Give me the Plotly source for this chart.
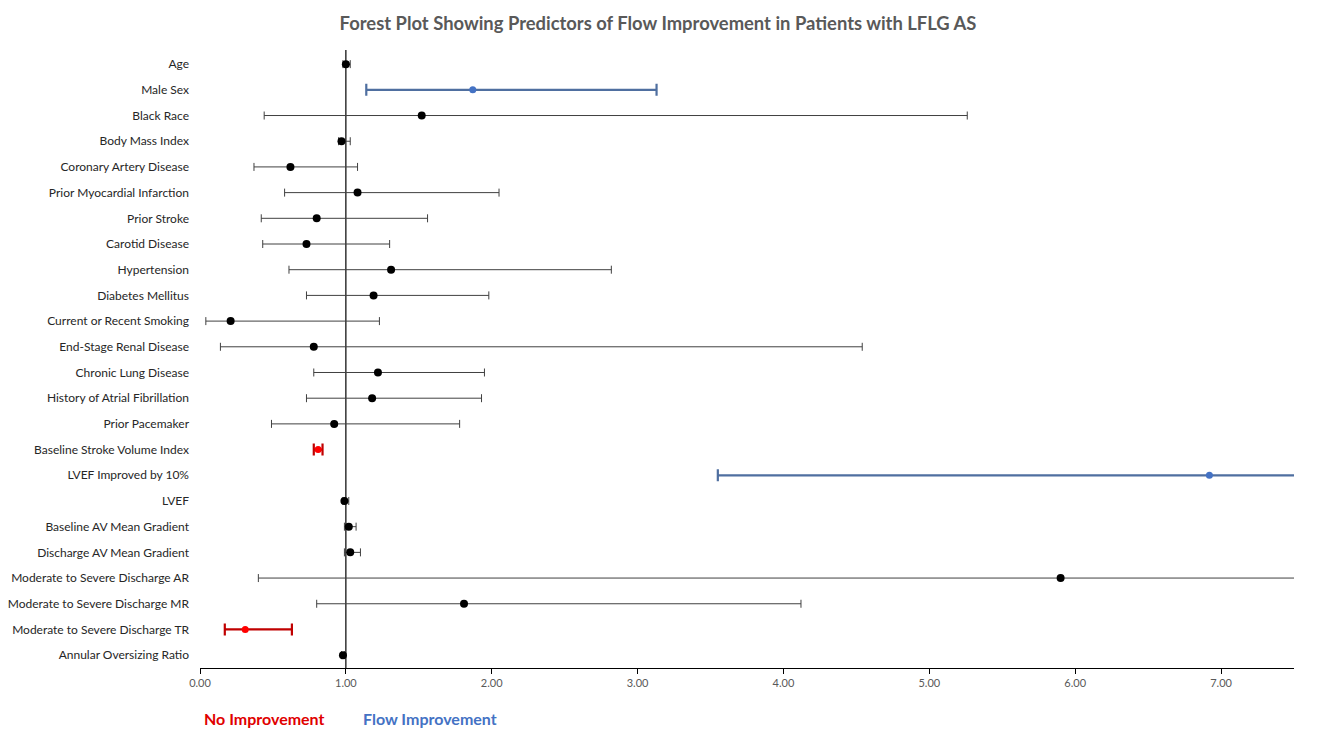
import plotly.graph_objects as go

labels = [
    "Age", "Male Sex", "Black Race", "Body Mass Index", "Coronary Artery Disease",
    "Prior Myocardial Infarction", "Prior Stroke", "Carotid Disease", "Hypertension",
    "Diabetes Mellitus", "Current or Recent Smoking", "End-Stage Renal Disease",
    "Chronic Lung Disease", "History of Atrial Fibrillation", "Prior Pacemaker",
    "Baseline Stroke Volume Index", "LVEF Improved by 10%", "LVEF",
    "Baseline AV Mean Gradient", "Discharge AV Mean Gradient",
    "Moderate to Severe Discharge AR", "Moderate to Severe Discharge MR",
    "Moderate to Severe Discharge TR", "Annular Oversizing Ratio",
]
odds_ratio = [1.00, 1.87, 1.52, 0.97, 0.62, 1.08, 0.80, 0.73, 1.31, 1.19, 0.21, 0.78,
              1.22, 1.18, 0.92, 0.81, 6.92, 0.99, 1.02, 1.03, 5.90, 1.81, 0.31, 0.98]
ci_low = [0.98, 1.14, 0.44, 0.95, 0.37, 0.58, 0.42, 0.43, 0.61, 0.73, 0.04, 0.14,
          0.78, 0.73, 0.49, 0.78, 3.55, 0.98, 0.99, 0.99, 0.40, 0.80, 0.17, 0.97]
ci_high = [1.03, 3.13, 5.26, 1.03, 1.08, 2.05, 1.56, 1.30, 2.82, 1.98, 1.23, 4.54,
           1.95, 1.93, 1.78, 0.84, 13.5, 1.02, 1.07, 1.10, 9.0, 4.12, 0.63, 0.99]
# effect group: "pos" = flow improvement, "neg" = no improvement, "ns" = not significant
group = ["ns", "pos", "ns", "ns", "ns", "ns", "ns", "ns", "ns", "ns", "ns", "ns",
         "ns", "ns", "ns", "neg", "pos", "ns", "ns", "ns", "ns", "ns", "neg", "ns"]
x_ticks = [0, 1, 2, 3, 4, 5, 6, 7]

styles = {
    "ns": dict(line="#404040", dot="#000000", lw=1, size=8, cap=4),
    "pos": dict(line="#4F6FA0", dot="#4472C4", lw=2.2, size=7, cap=6),
    "neg": dict(line="#C00000", dot="#FF0000", lw=2.2, size=7, cap=6),
}

fig = go.Figure()
for g, st in styles.items():
    idx = [i for i, v in enumerate(group) if v == g]
    fig.add_trace(go.Scatter(
        x=[odds_ratio[i] for i in idx],
        y=[i for i in idx],
        mode="markers",
        marker=dict(color=st["dot"], size=st["size"]),
        error_x=dict(
            type="data", symmetric=False,
            array=[ci_high[i] - odds_ratio[i] for i in idx],
            arrayminus=[odds_ratio[i] - ci_low[i] for i in idx],
            color=st["line"], thickness=st["lw"], width=st["cap"],
        ),
        showlegend=False,
        hoverinfo="skip",
    ))

fig.add_shape(type="line", xref="x", yref="paper", x0=1, x1=1, y0=0, y1=1,
              line=dict(color="#000000", width=1.2), layer="below")

W, H = 1317, 734
L, R, T, B = 192, 31, 42, 74
font = "Lato, 'Open Sans', Arial, sans-serif"
fig.update_layout(
    width=W, height=H,
    margin=dict(l=L, r=R, t=T, b=B, autoexpand=False),
    paper_bgcolor="white", plot_bgcolor="white",
    title=dict(text="<b>Forest Plot Showing Predictors of Flow Improvement in Patients with LFLG AS</b>",
               x=650 / W, xanchor="center", y=1 - 16 / H, yanchor="middle",
               font=dict(family=font, size=18.4, color="#595959")),
    font=dict(family=font),
    xaxis=dict(range=[0, 7.5], tickvals=x_ticks, automargin=False,
               ticktext=[f"{v:.2f}" for v in x_ticks],
               showgrid=False, zeroline=False, showline=True,
               linecolor="#000000", linewidth=1.2,
               ticks="outside", ticklen=5, tickcolor="#000000",
               tickfont=dict(size=11, color="#595959")),
    yaxis=dict(range=[23.5, -0.55], tickvals=list(range(len(labels))), ticktext=labels,
               automargin=False,
               showgrid=False, zeroline=False, showline=False, ticks="",
               ticklabelstandoff=10,
               tickfont=dict(size=12, color="#262626")),
)
pw = W - L - R
ph = H - T - B
for text, color, cx, cy in [("<b>No Improvement</b>", "#E00000", 256, 710),
                            ("<b>Flow Improvement</b>", "#4472C4", 422, 710)]:
    fig.add_annotation(text=text, x=(cx - L) / pw, y=(H - B - cy) / ph,
                       xref="paper", yref="paper", xanchor="center", yanchor="middle",
                       showarrow=False, font=dict(size=16, color=color, family=font))

fig.write_html("out.html")
